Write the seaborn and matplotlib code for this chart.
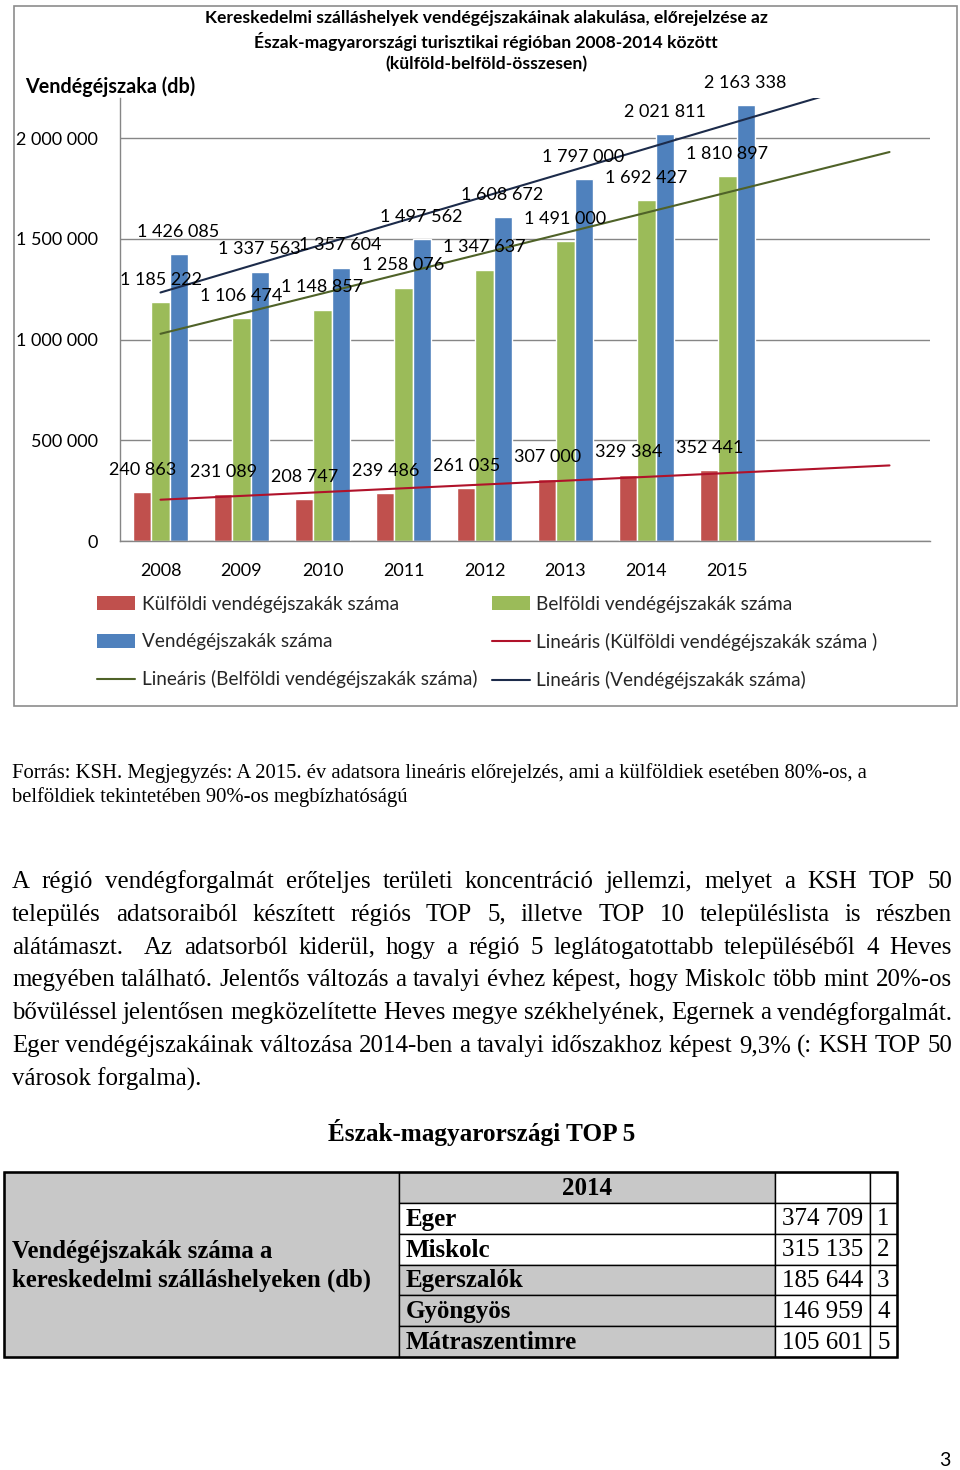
import numpy as np
import pandas as pd
import matplotlib
matplotlib.use("Agg")
import matplotlib.pyplot as plt
from matplotlib.patches import Rectangle
from matplotlib.lines import Line2D
from matplotlib.ticker import FuncFormatter
import seaborn as sns

# ---------------- data ----------------
years = ["2008", "2009", "2010", "2011", "2012", "2013", "2014", "2015"]
kulfoldi = [240863, 231089, 208747, 239486, 261035, 307000, 329384, 352441]
belfoldi = [1185222, 1106474, 1148857, 1258076, 1347637, 1491000, 1692427, 1810897]
osszes = [1426085, 1337563, 1357604, 1497562, 1608672, 1797000, 2021811, 2163338]
series_names = ["Külföldi vendégéjszakák száma", "Belföldi vendégéjszakák száma",
                "Vendégéjszakák száma"]
trend_names = ["Lineáris (Külföldi vendégéjszakák száma )",
               "Lineáris (Belföldi vendégéjszakák száma)",
               "Lineáris (Vendégéjszakák száma)"]
y_ticks = [0, 500000, 1000000, 1500000, 2000000]
n_slots = 10  # category slots on the axis (8 years + 2 forecast slots)

chart_title = ("Kereskedelmi szálláshelyek vendégéjszakáinak alakulása, előrejelzése az\n"
               "Észak-magyarországi turisztikai régióban 2008-2014 között\n"
               "(külföld-belföld-összesen)")
y_title = "Vendégéjszaka (db)"

note_lines = ["Forrás: KSH. Megjegyzés: A 2015. év adatsora lineáris előrejelzés, ami a külföldiek esetében 80%-os, a",
              "belföldiek tekintetében 90%-os megbízhatóságú"]
para_lines = [
    "A régió vendégforgalmát erőteljes területi koncentráció jellemzi, melyet a KSH TOP 50",
    "település adatsoraiból készített régiós TOP 5, illetve TOP 10 településlista is részben",
    "alátámaszt.  Az adatsorból kiderül, hogy a régió 5 leglátogatottabb településéből 4 Heves",
    "megyében található. Jelentős változás a tavalyi évhez képest, hogy Miskolc több mint 20%-os",
    "bővüléssel jelentősen megközelítette Heves megye székhelyének, Egernek a vendégforgalmát.",
    "Eger vendégéjszakáinak változása 2014-ben a tavalyi időszakhoz képest 9,3% (: KSH TOP 50",
    "városok forgalma).",
]
table_title = "Észak-magyarországi TOP 5"
table_rowhead = "Vendégéjszakák száma a\nkereskedelmi szálláshelyeken (db)"
table_year = "2014"
towns = ["Eger", "Miskolc", "Egerszalók", "Gyöngyös", "Mátraszentimre"]
town_values = [374709, 315135, 185644, 146959, 105601]
town_ranks = [1, 2, 3, 4, 5]
page_number = "3"

# ---------------- style ----------------
bar_colors = ["#C0504D", "#9BBB59", "#4F81BD"]
trend_colors = ["#B0122A", "#4F6228", "#1C2B4A"]
grid_col = "#868686"
cell_grey = "#C8C8C8"
sans = ["Lato", "DejaVu Sans"]
serif = ["Liberation Serif", "DejaVu Serif"]

sns.set_theme(style="white")
plt.rcParams["font.family"] = sans

W, H = 960, 1470
fig = plt.figure(figsize=(W / 100, H / 100), dpi=100)

# page overlay axes in pixel coordinates
page = fig.add_axes([0, 0, 1, 1])
page.set_xlim(0, W)
page.set_ylim(H, 0)
page.axis("off")
page.set_zorder(0)

def fx(px):
    return px / W

def fy(py):
    return 1 - py / H

# chart axes
ax_l, ax_r, ax_t, ax_b = 120, 930, 98, 541
ax = fig.add_axes([fx(ax_l), fy(ax_b), (ax_r - ax_l) / W, (ax_b - ax_t) / H])
ax.set_zorder(2)
ax.patch.set_alpha(0)

df = pd.DataFrame({
    "year": years * 3,
    "series": np.repeat(series_names, len(years)),
    "value": kulfoldi + belfoldi + osszes,
})
sns.barplot(data=df, x="year", y="value", hue="series", order=years,
            hue_order=series_names, palette=bar_colors, saturation=1,
            width=0.667, gap=0, errorbar=None, legend=False, ax=ax, zorder=2)

# data labels
for cont in ax.containers:
    for rect in cont:
        v = rect.get_height()
        ax.annotate(f"{int(round(v)):,}".replace(",", " "),
                    xy=(rect.get_x() + rect.get_width() / 2, v),
                    xytext=(0, 16), textcoords="offset points",
                    ha="center", va="center", fontsize=13, color="black",
                    zorder=5, annotation_clip=False)

# linear trend lines extended over all slots
xs = np.arange(len(years))
xfull = np.arange(n_slots)
for vals, col in zip([kulfoldi, belfoldi, osszes], trend_colors):
    k, b = np.polyfit(xs, vals, 1)
    ax.plot(xfull, k * xfull + b, color=col, lw=1.5, zorder=4)

ax.set_xlim(-0.5, n_slots - 0.5)
ax.set_ylim(0, 2200000)
ax.set_yticks(y_ticks)
ax.yaxis.set_major_formatter(FuncFormatter(lambda v, p: f"{int(v):,}".replace(",", " ")))
ax.set_xticks(np.arange(len(years)))
ax.set_xticklabels(years)
ax.set_xticks(np.arange(n_slots + 1) - 0.5, minor=True)
ax.tick_params(axis="x", which="major", length=0, pad=16, labelsize=13, colors="black")
ax.tick_params(axis="x", which="minor", length=6, width=1, color=grid_col, direction="out")
ax.tick_params(axis="y", which="major", length=6, width=1, color=grid_col, pad=10,
               labelsize=13, labelcolor="black", direction="out")
ax.grid(axis="y", color=grid_col, lw=1, zorder=0)
ax.set_axisbelow(True)
for s in ["top", "right"]:
    ax.spines[s].set_visible(False)
for s in ["left", "bottom"]:
    ax.spines[s].set_color(grid_col)
    ax.spines[s].set_linewidth(1)
ax.set_xlabel("")
ax.set_ylabel("")

# chart frame
page.add_patch(Rectangle((14, 6), 943, 700, facecolor="white", edgecolor="#8C8C8C", lw=1.2, zorder=0))

# chart titles
page.text(486, 41, chart_title, ha="center", va="center", fontsize=12.6, fontweight="bold",
          linespacing=1.38, color="black")
page.text(25, 87, y_title, ha="left", va="center", fontsize=14.2, fontweight="bold", color="black")

# legends (two columns)
def bar_handle(c):
    return Rectangle((0, 0), 1, 1, facecolor=c, edgecolor="none")

def line_handle(c):
    return Line2D([0], [0], color=c, lw=1.5)

leg_kw = dict(frameon=False, fontsize=13.7, handlelength=2.0, handleheight=0.75,
              handletextpad=0.35, labelspacing=1.06, borderpad=0, borderaxespad=0,
              loc="upper left")
h1 = [bar_handle(bar_colors[0]), bar_handle(bar_colors[2]), line_handle(trend_colors[1])]
l1 = [series_names[0], series_names[2], trend_names[1]]
h2 = [bar_handle(bar_colors[1]), line_handle(trend_colors[0]), line_handle(trend_colors[2])]
l2 = [series_names[1], trend_names[0], trend_names[2]]
fig.legend(h1, l1, bbox_to_anchor=(fx(97), fy(596)), **leg_kw)
fig.legend(h2, l2, bbox_to_anchor=(fx(491.5), fy(596)), **leg_kw)

# note text
for i, line in enumerate(note_lines):
    page.text(12, 773 + 24 * i, line, ha="left", va="center", fontsize=14.9,
              family=serif, color="black")

# justified paragraph
fig.canvas.draw()
renderer = fig.canvas.get_renderer()
px0, px1 = 12, 952
fs_para = 17.9
for i, line in enumerate(para_lines):
    y = 882 + 32.8 * i
    if i == len(para_lines) - 1:
        page.text(px0, y, line, ha="left", va="center", fontsize=fs_para, family=serif, color="black")
        continue
    words = line.split(" ")
    texts = [page.text(0, y, w, ha="left", va="center", fontsize=fs_para, family=serif, color="black")
             for w in words]
    widths = [t.get_window_extent(renderer).width if w else 0 for t, w in zip(texts, words)]
    gap = (px1 - px0 - sum(widths)) / (len(words) - 1)
    x = px0
    for t, wd in zip(texts, widths):
        t.set_x(x)
        x += wd + gap

# table
fs_tab = 18
page.text(482, 1133, table_title, ha="center", va="center", fontsize=18.2, fontweight="bold",
          family=serif, color="black")
t_top, t_bot = 1172, 1357
x_a, x_b, x_c, x_d, x_e = 4, 399, 775, 870, 897
row_h = (t_bot - t_top) / (len(towns) + 1)
page.add_patch(Rectangle((x_a, t_top), x_b - x_a, t_bot - t_top, facecolor=cell_grey,
                         edgecolor="black", lw=1, zorder=1))
page.text(x_a + 8, 1266, table_rowhead, ha="left", va="center",
          fontsize=17.8, fontweight="bold", family=serif, linespacing=1.3, color="black")
page.add_patch(Rectangle((x_b, t_top), x_c - x_b, row_h, facecolor=cell_grey,
                         edgecolor="black", lw=1, zorder=1))
page.add_patch(Rectangle((x_c, t_top), x_d - x_c, row_h, facecolor="white",
                         edgecolor="black", lw=1, zorder=1))
page.add_patch(Rectangle((x_d, t_top), x_e - x_d, row_h, facecolor="white",
                         edgecolor="black", lw=1, zorder=1))
page.text((x_b + x_c) / 2, t_top + row_h / 2 + 1, table_year, ha="center", va="center",
          fontsize=fs_tab, fontweight="bold", family=serif, color="black")
for i, (town, val, rk) in enumerate(zip(towns, town_values, town_ranks)):
    yt = t_top + row_h * (i + 1)
    bg = "white" if i < 2 else cell_grey
    page.add_patch(Rectangle((x_b, yt), x_c - x_b, row_h, facecolor=bg, edgecolor="black",
                             lw=1, zorder=1))
    page.add_patch(Rectangle((x_c, yt), x_d - x_c, row_h, facecolor="white", edgecolor="black",
                             lw=1, zorder=1))
    page.add_patch(Rectangle((x_d, yt), x_e - x_d, row_h, facecolor="white", edgecolor="black",
                             lw=1, zorder=1))
    page.text(x_b + 7, yt + row_h / 2 + 1, town, ha="left", va="center", fontsize=fs_tab,
              fontweight="bold", family=serif, color="black")
    page.text(x_d - 7, yt + row_h / 2 + 1, f"{val:,}".replace(",", " "), ha="right",
              va="center", fontsize=fs_tab, family=serif, color="black")
    page.text((x_d + x_e) / 2, yt + row_h / 2 + 1, str(rk), ha="center", va="center",
              fontsize=fs_tab, family=serif, color="black")
page.add_patch(Rectangle((x_a, t_top), x_e - x_a, t_bot - t_top, facecolor="none",
                         edgecolor="black", lw=1.8, zorder=3))

# page number
page.text(945, 1460, page_number, ha="center", va="center", fontsize=14, color="black")

fig.savefig("out.png", dpi=100)
